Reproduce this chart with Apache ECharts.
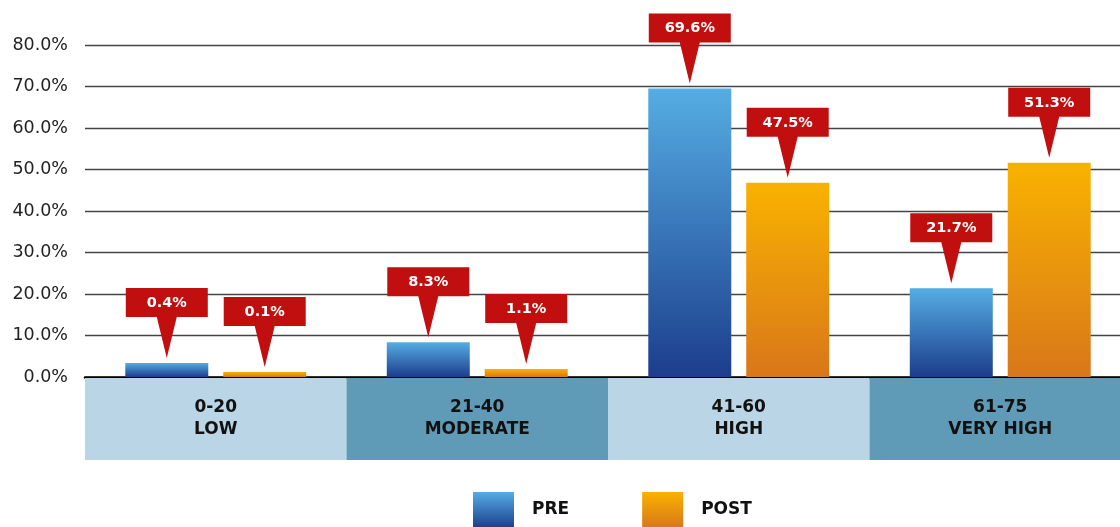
<!DOCTYPE html>
<html>
<head>
<meta charset="utf-8">
<script src="https://cdn.jsdelivr.net/npm/echarts@6/dist/echarts.min.js"></script>
<style>
  html, body { margin: 0; padding: 0; background: #fff; }
  #chart { width: 1120px; height: 527px; }
</style>
</head>
<body>
<div id="chart"></div>
<script>
// categories (two-line labels under the plot)
var categories = ['0-20\nLOW', '21-40\nMODERATE', '41-60\nHIGH', '61-75\nVERY HIGH'];
// bar heights as drawn in the picture (%)
var preBars = [3.4, 8.4, 69.5, 21.4];
var postBars = [1.2, 1.9, 46.8, 51.6];
// values printed in the red callouts (%)
var preLabels = [0.4, 8.3, 69.6, 21.7];
var postLabels = [0.1, 1.1, 47.5, 51.3];
var yTicks = { min: 0, max: 80, interval: 10 };
var bandColors = ['#b9d5e6', '#5f9bb6', '#b9d5e6', '#5f9bb6'];

var font = 'DejaVu Sans';
var calloutPath = 'path://M0,0 H82 V29 H51 L41,70 L31,29 H0 Z';

function callouts(bars, labels) {
  return {
    symbol: calloutPath,
    symbolSize: [82, 70],
    symbolOffset: [0, -40],
    itemStyle: { color: '#c10e0e' },
    label: {
      show: true,
      position: 'inside',
      offset: [0, -20],
      color: '#fff',
      fontFamily: font,
      fontWeight: 'bold',
      fontSize: 14.5,
      formatter: function (p) { return p.value.toFixed(1) + '%'; }
    },
    data: bars.map(function (v, i) {
      return { coord: [i, v], value: labels[i] };
    })
  };
}

var preColor = new echarts.graphic.LinearGradient(0, 0, 0, 1, [
  { offset: 0, color: '#55ade3' },
  { offset: 1, color: '#1c3d8c' }
]);
var postColor = new echarts.graphic.LinearGradient(0, 0, 0, 1, [
  { offset: 0, color: '#f9b200' },
  { offset: 1, color: '#d8771a' }
]);

var chart = echarts.init(document.getElementById('chart'));
chart.setOption({
  animation: false,
  grid: [
    { left: 85, width: 1046, top: 45, height: 332, outerBoundsMode: 'none', containLabel: false },
    { left: 85, width: 1046, top: 378, height: 82, outerBoundsMode: 'none', containLabel: false }
  ],
  legend: {
    data: ['PRE', 'POST'],
    left: 473,
    top: 492,
    padding: 0,
    itemWidth: 41,
    itemHeight: 36,
    itemGap: 73,
    icon: 'rect',
    textStyle: {
      fontFamily: font,
      fontWeight: 'bold',
      fontSize: 17,
      color: '#111',
      padding: [0, 0, 0, 13]
    }
  },
  xAxis: [
    {
      type: 'category',
      gridIndex: 0,
      data: categories,
      axisLine: { lineStyle: { color: '#000', width: 2.5 } },
      axisTick: { show: false },
      axisLabel: { show: false }
    },
    {
      type: 'category',
      gridIndex: 1,
      data: categories,
      axisLine: { show: false },
      axisTick: { show: false },
      axisLabel: { show: false }
    }
  ],
  yAxis: [
    {
      type: 'value',
      gridIndex: 0,
      min: yTicks.min,
      max: yTicks.max,
      interval: yTicks.interval,
      axisLine: { show: false },
      axisTick: { show: false },
      splitLine: { lineStyle: { color: '#444', width: 1.3 } },
      axisLabel: {
        margin: 17,
        fontFamily: font,
        fontSize: 17.5,
        color: '#222',
        formatter: function (v) { return v.toFixed(1) + '%'; }
      }
    },
    {
      type: 'value',
      gridIndex: 1,
      min: 0,
      max: 1,
      show: false
    }
  ],
  series: [
    {
      name: 'PRE',
      type: 'bar',
      data: preBars,
      barWidth: 83,
      barGap: '18%',
      itemStyle: { color: preColor },
      markPoint: callouts(preBars, preLabels)
    },
    {
      name: 'POST',
      type: 'bar',
      data: postBars,
      barWidth: 83,
      itemStyle: { color: postColor },
      markPoint: callouts(postBars, postLabels)
    },
    {
      name: 'bands',
      type: 'bar',
      xAxisIndex: 1,
      yAxisIndex: 1,
      silent: true,
      barWidth: '100%',
      data: categories.map(function (c, i) {
        return { value: 1, itemStyle: { color: bandColors[i] } };
      }),
      label: {
        show: true,
        position: 'inside',
        fontFamily: font,
        fontWeight: 'bold',
        fontSize: 17,
        lineHeight: 22,
        color: '#111',
        formatter: function (p) { return categories[p.dataIndex]; }
      }
    }
  ]
});
</script>
</body>
</html>
